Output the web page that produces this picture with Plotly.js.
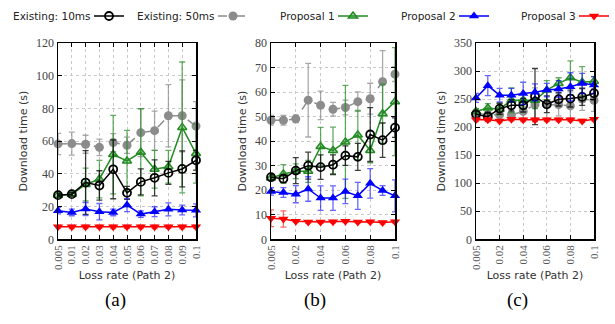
<!DOCTYPE html>
<html><head><meta charset="utf-8">
<script src="https://cdn.plot.ly/plotly-3.0.1.min.js"></script>
<style>body{margin:0;padding:0;background:#fff}#chart{width:615px;height:324px}</style>
</head><body><div id="chart"></div>
<script>
// ---- data ----
const cats = ['0.005','0.01','0.02','0.03','0.04','0.05','0.06','0.07','0.08','0.09','0.1'];
const seriesNames = ['Existing: 10ms','Existing: 50ms','Proposal 1','Proposal 2','Proposal 3'];

// panel (a)
const a_e10 = [27.0, 27.6, 34.7, 32.9, 42.8, 28.4, 35.1, 37.6, 40.6, 43.0, 48.3];
const a_e10_err = [1, 1, 19.5, 9, 18, 4, 8, 11, 7, 11, 6];
const a_e50 = [58.3, 58.5, 58.1, 56.2, 59.1, 57.5, 65.2, 66.4, 75.5, 75.5, 69.2];
const a_e50_err = [6.5, 7, 5.5, 5, 5.5, 5, 14.7, 12, 19, 22, 15];
const a_p1 = [27.0, 27.6, 33.5, 36.8, 51.8, 47.9, 53.2, 42.8, 44.3, 68.4, 52.4];
const a_p1_err = [1, 1, 10, 11.5, 24, 18.7, 26.6, 11.5, 10, 40, 18];
const a_p2 = [17.5, 16.4, 18.5, 16.9, 16.4, 20.9, 15.4, 16.9, 18.3, 17.9, 17.7];
const a_p2_err = [2, 2, 4, 5, 2, 4, 2, 3, 4, 3, 4];
const a_p3 = [7.7, 7.6, 7.6, 7.7, 7.6, 7.7, 7.6, 7.6, 7.7, 7.6, 7.7];
const a_p3_err = [1, 1, 1, 1, 1, 1, 1, 1, 1, 1, 1];

// panel (b)
const b_e10 = [25.3, 24.7, 28.0, 30.0, 29.4, 30.4, 34.1, 33.6, 42.7, 40.4, 45.5];
const b_e10_err = [1, 1.5, 5.3, 5.5, 5, 4, 4, 5.5, 11, 7, 4];
const b_e50 = [48.5, 48.5, 49.1, 56.7, 54.6, 53.0, 53.7, 56.1, 57.3, 64.2, 67.3];
const b_e50_err = [2, 2, 1.5, 15, 5.8, 2.8, 3, 4, 6.3, 12.7, 3];
const b_p1 = [25.0, 26.6, 27.7, 27.7, 37.8, 36.2, 39.7, 42.5, 36.2, 51.2, 56.1];
const b_p1_err = [1, 3.8, 3, 4.5, 7.8, 9.5, 23, 10, 5, 12, 22];
const b_p2 = [19.5, 19.1, 18.4, 20.5, 16.8, 16.8, 19.5, 17.7, 22.8, 19.9, 17.7];
const b_p2_err = [1.5, 2, 3.5, 5, 5, 5, 5, 5.5, 6, 2, 6.5];
const b_p3 = [8.6, 8.3, 7.4, 7.1, 7.0, 7.2, 7.4, 7.1, 7.2, 6.8, 7.2];
const b_p3_err = [3.4, 3.3, 0.5, 0.5, 0.5, 0.5, 0.5, 0.5, 0.5, 0.5, 0.5];

// panel (c)
const c_e10 = [222.8, 218.6, 233, 239, 239, 254.5, 240.7, 249.7, 250.9, 253.9, 260.5];
const c_e10_err = [5, 8, 10, 10, 12, 50, 15, 12, 15, 15, 12];
const c_e50 = [225, 222, 222, 222, 228, 240, 240, 240, 238, 250, 248];
const c_e50_err = [8, 10, 10, 10, 15, 30, 25, 20, 25, 20, 20];
const c_p1 = [228, 234, 232, 248, 248, 248, 266, 278, 288, 280, 282];
const c_p1_err = [5, 8, 10, 22, 12, 15, 17, 10, 30, 28, 8];
const c_p2 = [252, 274, 257, 257, 260, 262, 266, 268, 272, 278, 275];
const c_p2_err = [8, 18, 12, 12, 20, 15, 12, 15, 25, 18, 15];
const c_p3 = [213, 213, 211, 214, 213, 213, 213, 213, 213, 211, 214];
const c_p3_err = [3, 3, 3, 3, 3, 3, 3, 3, 3, 3, 3];

const yTicksA = [0, 20, 40, 60, 80, 100, 120];
const yTicksB = [0, 10, 20, 30, 40, 50, 60, 70, 80];
const yTicksC = [0, 50, 100, 150, 200, 250, 300, 350];

// ---- styles ----
const styles = [
  {line:{color:'#000000', width:1.5}, marker:{symbol:'circle-open', size:8, color:'#000000', line:{width:1.8, color:'#000000'}}, err:'rgba(0,0,0,0.75)'},
  {line:{color:'#8c8c8c', width:1.5, dash:'dash'}, marker:{symbol:'circle', size:9, color:'#8c8c8c'}, err:'rgba(140,140,140,0.75)'},
  {line:{color:'#228b22', width:1.5}, marker:{symbol:'triangle-up', size:8, color:'rgba(34,139,34,0.35)', line:{width:1.5, color:'#228b22'}}, err:'rgba(34,139,34,0.7)'},
  {line:{color:'#0000ff', width:1.5}, marker:{symbol:'triangle-up', size:9, color:'#0000ff'}, err:'rgba(0,0,255,0.6)'},
  {line:{color:'#ff0000', width:1.5}, marker:{symbol:'triangle-down', size:9, color:'#ff0000'}, err:'rgba(255,0,0,0.6)'}
];

const panels = [
  {xa:'x',  ya:'y',  vals:[a_e10,a_e50,a_p1,a_p2,a_p3], errs:[a_e10_err,a_e50_err,a_p1_err,a_p2_err,a_p3_err]},
  {xa:'x2', ya:'y2', vals:[b_e10,b_e50,b_p1,b_p2,b_p3], errs:[b_e10_err,b_e50_err,b_p1_err,b_p2_err,b_p3_err]},
  {xa:'x3', ya:'y3', vals:[c_e10,c_e50,c_p1,c_p2,c_p3], errs:[c_e10_err,c_e50_err,c_p1_err,c_p2_err,c_p3_err]}
];
const legendIds = ['legend', 'legend2', 'legend3', 'legend4', 'legend5'];

const traces = [];
// draw order: gray behind, then green, black, blue, red
const order = [1, 2, 0, 3, 4];
panels.forEach((p, pi) => {
  order.forEach(si => {
    const s = styles[si];
    traces.push({
      type:'scatter', mode:'lines+markers', x:cats, y:p.vals[si],
      xaxis:p.xa, yaxis:p.ya, name:' ',
      legend: legendIds[si],
      showlegend: pi === 0,
      line:s.line, marker:s.marker, cliponaxis:false,
      error_y:{type:'data', array:p.errs[si], visible:true, color:s.err, thickness:1.3, width:3}
    });
  });
});

const W = 615, H = 324;
const yBot = 1 - 239.3 / H, yTop = 1 - 43 / H;
const tickFont = {family:'Liberation Serif, serif', size:12, color:'#444'};
const xTickFont = {family:'Liberation Serif, serif', size:11, color:'#555'};
const titleFont = {family:'DejaVu Sans, sans-serif', size:11, color:'#333'};

function xax(l, r) {
  return {domain:[l / W, r / W], type:'category', categoryorder:'array', categoryarray:cats,
    range:[0, 10], tickangle:-90, tickfont:xTickFont, showgrid:true, gridcolor:'#c8c8c8',
    griddash:'dot', gridwidth:1, ticks:'inside', ticklen:4, tickcolor:'#000',
    showline:true, linecolor:'#000', linewidth:1.5, mirror:'ticks', zeroline:false,
    title:{text:'Loss rate (Path 2)', font:titleFont, standoff:2}, fixedrange:true};
}
function yax(range, tickvals) {
  return {domain:[yBot, yTop], range:range, tickvals:tickvals, tickfont:tickFont,
    showgrid:true, gridcolor:'#c8c8c8', griddash:'dot', gridwidth:1,
    ticks:'inside', ticklen:4, tickcolor:'#000', showline:true, linecolor:'#000',
    linewidth:1.5, mirror:'ticks', zeroline:false,
    title:{text:'Download time (s)', font:titleFont, standoff:6}, fixedrange:true};
}

const symCenters = [113, 237, 357, 478, 598];
const annotations = [];
seriesNames.forEach((n, i) => {
  annotations.push({text:n, xref:'paper', yref:'paper', x:(symCenters[i] - 20) / W, y:1 - 16 / H,
    xanchor:'right', yanchor:'middle', showarrow:false,
    font:{family:'DejaVu Sans, sans-serif', size:10.5, color:'#222'}});
});
[['(a)', 115], ['(b)', 315], ['(c)', 517]].forEach(([t, x]) => {
  annotations.push({text:t, xref:'paper', yref:'paper', x:x / W, y:1 - 300 / H,
    xanchor:'center', yanchor:'middle', showarrow:false,
    font:{family:'Liberation Serif, serif', size:19, color:'#000'}});
});

const layout = {
  width:W, height:H, margin:{l:0, r:0, t:0, b:0, autoexpand:false}, paper_bgcolor:'#fff', plot_bgcolor:'#fff',
  showlegend:true,
  xaxis:xax(58, 196), yaxis:yax([0, 120], yTicksA),
  xaxis2:xax(271, 395), yaxis2:yax([0, 80], yTicksB),
  xaxis3:xax(476, 594), yaxis3:yax([0, 350], yTicksC),
  annotations:annotations
};
legendIds.forEach((id, i) => {
  layout[id] = {orientation:'h', x:(symCenters[i] - 24) / W, y:1 - 16 / H,
    xanchor:'left', yanchor:'middle', font:{size:11}, bgcolor:'rgba(0,0,0,0)',
    borderwidth:0, itemwidth:30};
});
layout.yaxis2.anchor = 'x2'; layout.xaxis2.anchor = 'y2';
layout.yaxis3.anchor = 'x3'; layout.xaxis3.anchor = 'y3';

Plotly.newPlot('chart', traces, layout, {staticPlot:true});
</script></body></html>
